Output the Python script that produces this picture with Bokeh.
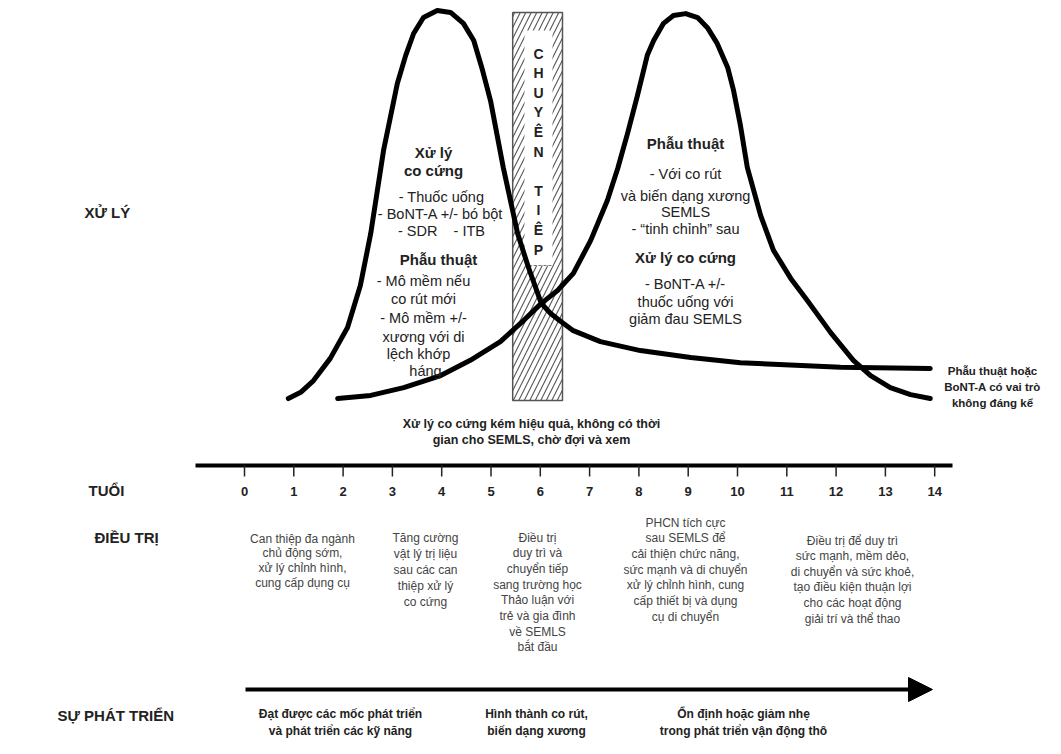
from bokeh.plotting import figure
from bokeh.models import Range1d, Arrow, NormalHead
from bokeh.embed import file_html
from bokeh.resources import INLINE
from bokeh.core.properties import value

# ---------------- data ----------------
ages = list(range(15))
age_labels = [str(a) for a in ages]

# "Xử lý co cứng" curve (level 0-100 against age)
spas_age = [0.89, 1.14, 1.40, 1.74, 2.09, 2.35, 2.56, 2.82, 3.10, 3.27, 3.43, 3.63, 3.91, 4.18,
            4.44, 4.65, 4.83, 4.99, 5.25, 5.54, 5.76, 6.02, 6.21, 6.41, 6.67, 7.22, 8.03, 9.05,
            10.06, 12.09, 13.91]
spas_level = [0.5, 2.1, 5.1, 10.8, 18.7, 29.5, 42.8, 64.1, 81.3, 88.5, 94.1, 98.2, 100.0, 99.5,
              96.7, 92.3, 84.6, 76.9, 59.7, 42.8, 34.1, 24.9, 22.3, 20.3, 17.9, 15.1, 12.8, 11.0,
              9.7, 8.5, 8.2]

# "Phẫu thuật" curve
surg_age = [1.89, 2.56, 3.23, 3.98, 4.58, 5.19, 5.66, 6.02, 6.35, 6.67, 7.02, 7.36, 7.57, 7.77,
            7.97, 8.17, 8.30, 8.50, 8.70, 8.95, 9.19, 9.39, 9.59, 9.80, 9.92, 10.06, 10.20, 10.47,
            10.73, 11.08, 11.42, 11.89, 12.35, 12.70, 13.10, 13.51, 13.91]
surg_level = [0.5, 1.3, 3.3, 6.4, 10.3, 15.1, 20.5, 24.9, 28.2, 32.6, 41.0, 51.3, 59.5, 68.5,
              78.2, 88.5, 92.3, 96.7, 98.7, 99.2, 98.2, 95.6, 91.5, 85.4, 79.5, 70.5, 59.7, 47.4,
              38.5, 31.3, 25.6, 17.4, 10.3, 6.4, 3.3, 1.5, 0.5]

transition_ages = [5.44, 6.45]
transition_letters = ["C", "H", "U", "Y", "Ê", "N", "", "T", "I", "Ê", "P"]

left_hump = ["Xử lý", "co cứng", "- Thuốc uống", "- BoNT-A +/- bó bột", "- SDR\u00a0\u00a0\u00a0\u00a0- ITB",
             "Phẫu thuật", "- Mô mềm nếu", "co rút mới", "- Mô mềm +/-", "xương với di",
             "lệch khớp", "háng"]
right_hump = ["Phẫu thuật", "- Với co rút", "và biến dạng xương", "SEMLS", "- \u201ctinh chỉnh\u201d sau",
              "Xử lý co cứng", "- BoNT-A +/-", "thuốc uống với", "giảm đau SEMLS"]
right_note = ["Phẫu thuật hoặc", "BoNT-A có vai trò", "không đáng kể"]
mid_note = ["Xử lý co cứng kém hiệu quả, không có thời", "gian cho SEMLS, chờ đợi và xem"]

treat_cols = [
    ["Can thiệp đa ngành", "chủ động sớm,", "xử lý chỉnh hình,", "cung cấp dụng cụ"],
    ["Tăng cường", "vật lý trị liệu", "sau các can", "thiệp xử lý", "co cứng"],
    ["Điều trị", "duy trì và", "chuyển tiếp", "sang trường học", "Thảo luận với",
     "trẻ và gia đình", "về SEMLS", "bắt đầu"],
    ["PHCN tích cực", "sau SEMLS để", "cải thiện chức năng,", "sức mạnh và di chuyển",
     "xử lý chỉnh hình, cung", "cấp thiết bị và dụng", "cụ di chuyển"],
    ["Điều trị để duy trì", "sức mạnh, mềm dẻo,", "di chuyển và sức khoẻ,",
     "tạo điều kiện thuận lợi", "cho các hoạt động", "giải trí và thể thao"],
]
dev_cols = [
    ["Đạt được các mốc phát triển", "và phát triển các kỹ năng"],
    ["Hình thành co rút,", "biến dạng xương"],
    ["Ổn định hoặc giảm nhẹ", "trong phát triển vận động thô"],
]
row_labels = ["XỬ LÝ", "TUỔI", "ĐIỀU TRỊ", "SỰ PHÁT TRIỂN"]

# ---------------- layout helpers ----------------
W, H = 1045, 738
PX_YEAR, AGE0_PX = 49.3, 244.0
PX_LEVEL, LEVEL0_PX = 3.9, 400.0


def X(px):
    return (px - AGE0_PX) / PX_YEAR


def Y(py):
    return (LEVEL0_PX - py) / PX_LEVEL


FONT = value("Liberation Sans")

p = figure(width=W, height=H,
           x_range=Range1d(X(0), X(W)), y_range=Range1d(Y(H), Y(0)),
           output_backend="svg", toolbar_location=None, min_border=0,
           x_axis_location=None, y_axis_location=None,
           outline_line_color=None, background_fill_color="white")
p.grid.visible = False


def lines_at(lines, cx, y0, step, size, bold=False, color="#222222", align="center"):
    ys = [Y(y0 + i * step) for i in range(len(lines))]
    p.text(x=[X(cx)] * len(lines), y=ys, text=lines, text_font=FONT,
           text_font_size=f"{size}px", text_font_style="bold" if bold else "normal",
           text_color=color, text_align=align, text_baseline="middle")


# transition box
p.quad(left=[transition_ages[0]], right=[transition_ages[1]], bottom=[0], top=[Y(12)],
       fill_color="white", line_color="#555555", line_width=1.5,
       hatch_pattern="/", hatch_color="#555555", hatch_scale=11, hatch_weight=1.1)
p.quad(left=[X(524)], right=[X(552)], bottom=[Y(265)], top=[Y(30)],
       fill_color="white", line_color=None)
p.segment(x0=[X(528)], y0=[Y(265)], x1=[X(552)], y1=[Y(265)], line_color="#777777",
          line_width=1, line_dash="3 2")
letter_y = [Y(53 + i * 19.6) for i in range(len(transition_letters))]
p.text(x=[X(538)] * len(transition_letters), y=letter_y, text=transition_letters,
       text_font=FONT, text_font_size="14px", text_font_style="bold", text_color="#222222",
       text_align="center", text_baseline="middle")

# curves
p.line(spas_age, spas_level, line_color="black", line_width=5, line_join="round", line_cap="round")
p.line(surg_age, surg_level, line_color="black", line_width=5, line_join="round", line_cap="round")

# hump texts
lh_y = [152, 170, 196, 213, 230, 259, 280, 298, 317, 336, 353, 370]
lh_x = [433, 433, 441, 440, 441, 438, 423, 423, 423, 423, 418, 425]
lh_bold = [True, True, False, False, False, True, False, False, False, False, False, False]
for t, xx, yy, b in zip(left_hump, lh_x, lh_y, lh_bold):
    lines_at([t], xx, yy, 0, 15 if b else 14.5, bold=b)

rh_y = [143, 173, 195, 211, 228, 257, 283, 301, 318]
rh_bold = [True, False, False, False, False, True, False, False, False]
for t, yy, b in zip(right_hump, rh_y, rh_bold):
    lines_at([t], 685, yy, 0, 15 if b else 14.5, bold=b)

lines_at(right_note, 992, 370, 16, 11.5, bold=True)
lines_at(mid_note, 531, 423, 16.5, 12.5, bold=True)

# age axis
p.segment(x0=[X(195)], y0=[Y(465)], x1=[X(952)], y1=[Y(465)], line_color="black", line_width=4)
p.segment(x0=ages, y0=[Y(465)] * len(ages), x1=ages, y1=[Y(476)] * len(ages),
          line_color="#222222", line_width=1.5)
p.text(x=ages, y=[Y(491)] * len(ages), text=age_labels, text_font=FONT, text_font_size="13px",
       text_font_style="bold", text_color="#222222", text_align="center", text_baseline="middle")

# treatment row
treat_cx = [302, 425, 537, 685, 852]
treat_y0 = [538, 537, 537, 522, 540]
treat_step = [14.7, 16.0, 15.7, 15.7, 15.6]
for lines, cx, y0, st in zip(treat_cols, treat_cx, treat_y0, treat_step):
    lines_at(lines, cx, y0, st, 12, color="#444444")

# development arrow
p.add_layout(Arrow(end=NormalHead(size=24, fill_color="black", line_color="black"),
                   x_start=X(245), y_start=Y(689), x_end=X(932), y_end=Y(689),
                   line_color="black", line_width=4))
dev_cx = [340, 536, 743]
for lines, cx in zip(dev_cols, dev_cx):
    lines_at(lines, cx, 713, 17, 12, bold=True)

# row labels
label_pos = [(84, 212), (88, 490), (94, 537), (57, 715)]
for t, (lx, ly) in zip(row_labels, label_pos):
    lines_at([t], lx, ly, 0, 15, bold=True, align="left")

open("out.html", "w").write(file_html(p, INLINE))
